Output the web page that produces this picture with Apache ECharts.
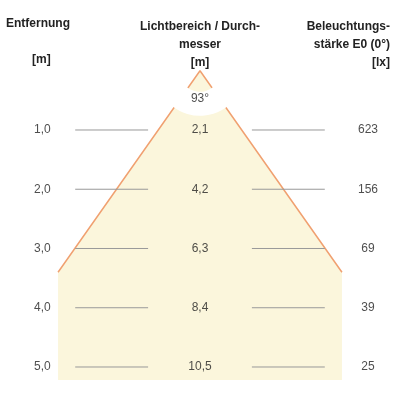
<!DOCTYPE html>
<html>
<head>
<meta charset="utf-8">
<script src="https://cdn.jsdelivr.net/npm/echarts@6/dist/echarts.min.js"></script>
<style>html,body{margin:0;background:#fff}#main{width:400px;height:400px}</style>
</head>
<body>
<div id="main"></div>
<script>
const distances = [1.0, 2.0, 3.0, 4.0, 5.0];
const diameters = ['2,1', '4,2', '6,3', '8,4', '10,5'];
const illuminance = ['623', '156', '69', '39', '25'];
const beamAngle = 93;

const halfTan = Math.tan(beamAngle / 2 * Math.PI / 180);
const coneEnd = 3.4, fillEnd = 5.22;
const cx = halfTan * coneEnd;
const FONT = 'Liberation Sans, Arial, sans-serif';

const chart = echarts.init(document.getElementById('main'));
const rowLabels = (xs, texts) => distances.map((d, i) => ({ value: [xs, d], label: { formatter: texts[i] } }));

chart.setOption({
  animation: false,
  grid: { left: 0, right: 0, top: 0, bottom: 0 },
  xAxis: { type: 'value', min: -5.048, max: 5.048, show: false },
  yAxis: { type: 'value', min: -1.194, max: 5.557, inverse: true, show: false },
  graphic: [
    { type: 'text', left: 6, top: 18, style: { text: 'Entfernung', font: 'bold 12px ' + FONT, fill: '#222' } },
    { type: 'text', left: 32, top: 54, style: { text: '[m]', font: 'bold 12px ' + FONT, fill: '#222' } },
    { type: 'text', x: 200, y: 18, style: { text: 'Lichtbereich / Durch-\nmesser\n[m]', font: 'bold 12px ' + FONT, fill: '#222', align: 'center', lineHeight: 18 } },
    { type: 'text', x: 390, y: 18, style: { text: 'Beleuchtungs-\nstärke E0 (0°)\n[lx]', font: 'bold 12px ' + FONT, fill: '#222', align: 'right', lineHeight: 18 } }
  ],
  series: [
    {
      type: 'custom', silent: true, z: 1,
      data: [[0, 0]],
      renderItem: (params, api) => {
        const pts = [[0, 0], [-cx, coneEnd], [-cx, fillEnd], [cx, fillEnd], [cx, coneEnd]].map(p => api.coord(p));
        return { type: 'polygon', shape: { points: pts }, style: { fill: '#fbf6dc' } };
      }
    },
    {
      type: 'line', silent: true, z: 2, symbol: 'none',
      lineStyle: { color: '#f0a070', width: 1.5 },
      data: [[-cx, coneEnd], [0, 0], [cx, coneEnd]]
    },
    {
      type: 'custom', silent: true, z: 3,
      data: [[0, 0]],
      renderItem: (params, api) => {
        const apex = api.coord([0, 0]);
        const a = beamAngle / 2 * Math.PI / 180;
        return { type: 'sector', shape: { cx: apex[0], cy: apex[1], r0: 21, r: 45, startAngle: Math.PI / 2 - a - 0.08, endAngle: Math.PI / 2 + a + 0.08 }, style: { fill: '#fff' } };
      }
    },
    {
      type: 'custom', silent: true, z: 3,
      data: distances.map(d => [0, d]),
      renderItem: (params, api) => {
        const d = api.value(1);
        const seg = (x1, x2) => ({ type: 'line', shape: { x1: api.coord([x1, d])[0], y1: api.coord([x1, d])[1], x2: api.coord([x2, d])[0], y2: api.coord([x2, d])[1] }, style: { stroke: '#999', lineWidth: 1 } });
        return { type: 'group', children: [seg(-3.15, -1.31), seg(1.31, 3.15)] };
      }
    },
    {
      type: 'scatter', silent: true, z: 4, symbolSize: 0,
      label: { show: true, position: 'inside', color: '#222', fontSize: 12, fontFamily: FONT },
      data: rowLabels(-3.98, distances.map(d => d.toFixed(1).replace('.', ',')))
        .concat(rowLabels(0, diameters))
        .concat(rowLabels(4.24, illuminance))
        .concat([{ value: [0, 0.47], label: { formatter: beamAngle + '°' } }])
    }
  ]
});
</script>
</body>
</html>
